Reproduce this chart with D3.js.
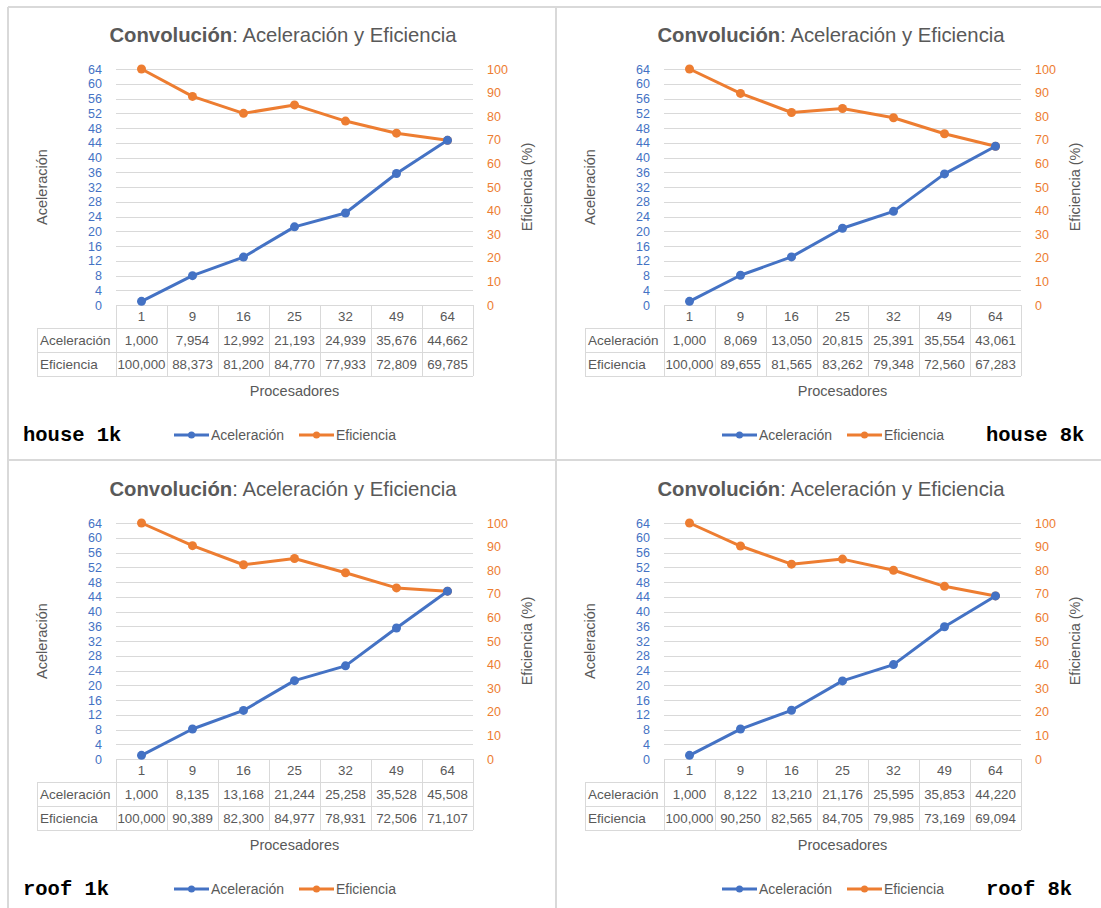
<!DOCTYPE html>
<html><head><meta charset="utf-8">
<script src="https://cdn.jsdelivr.net/npm/d3@7"></script>
<style>body{margin:0;background:#fff} svg{display:block}</style>
</head><body>
<script>
// Procesadores (categories) and measured values per image/size
const procesadores = ["1", "9", "16", "25", "32", "49", "64"];
const acelHouse1k = [1.000, 7.954, 12.992, 21.193, 24.939, 35.676, 44.662];
const eficHouse1k = [100.000, 88.373, 81.200, 84.770, 77.933, 72.809, 69.785];
const acelHouse8k = [1.000, 8.069, 13.050, 20.815, 25.391, 35.554, 43.061];
const eficHouse8k = [100.000, 89.655, 81.565, 83.262, 79.348, 72.560, 67.283];
const acelRoof1k = [1.000, 8.135, 13.168, 21.244, 25.258, 35.528, 45.508];
const eficRoof1k = [100.000, 90.389, 82.300, 84.977, 78.931, 72.506, 71.107];
const acelRoof8k = [1.000, 8.122, 13.210, 21.176, 25.595, 35.853, 44.220];
const eficRoof8k = [100.000, 90.250, 82.565, 84.705, 79.985, 73.169, 69.094];
const acelTicks = [0, 4, 8, 12, 16, 20, 24, 28, 32, 36, 40, 44, 48, 52, 56, 60, 64];
const eficTicks = [0, 10, 20, 30, 40, 50, 60, 70, 80, 90, 100];
const panelLabels = ["house 1k", "house 8k", "roof 1k", "roof 8k"];

const panels = [
  {label: panelLabels[0], acel: acelHouse1k, efic: eficHouse1k, col: 0, row: 0},
  {label: panelLabels[1], acel: acelHouse8k, efic: eficHouse8k, col: 1, row: 0},
  {label: panelLabels[2], acel: acelRoof1k, efic: eficRoof1k, col: 0, row: 1},
  {label: panelLabels[3], acel: acelRoof8k, efic: eficRoof8k, col: 1, row: 1}
];

const BLUE = "#4472C4", ORANGE = "#ED7D31", GRID = "#d9d9d9", TXT = "#595959";
const FONT = "'Liberation Sans', Arial, sans-serif";
const fmt = d3.formatLocale({decimal: ",", thousands: ".", grouping: [3], currency: ["", ""]}).format(".3f");

const W = 1101, H = 908;
const svg = d3.select("body").append("svg").attr("width", W).attr("height", H);

// frame and separators between the four charts
const frame = svg.append("g").attr("stroke", "#d9d9d9").attr("stroke-width", 2).attr("fill", "none");
frame.append("line").attr("x1", 8).attr("x2", 8).attr("y1", 7).attr("y2", H);
frame.append("line").attr("x1", 8).attr("x2", W).attr("y1", 7).attr("y2", 7);
frame.append("line").attr("x1", 556).attr("x2", 556).attr("y1", 7).attr("y2", H);
frame.append("line").attr("x1", 8).attr("x2", W).attr("y1", 460).attr("y2", 460);

const DX = 548, DY = 454;
const plot = {x0: 116, x1: 473, y0: 69, y1: 305};
const tbl = {left: 37, r0: 305, r1: 328, r2: 352, r3: 376};

const x = d3.scaleBand().domain(procesadores).range([plot.x0, plot.x1]);
const yL = d3.scaleLinear().domain([0, 64]).range([plot.y1, plot.y0]);
const yR = d3.scaleLinear().domain([0, 100]).range([plot.y1, plot.y0]);

panels.forEach(p => {
  const g = svg.append("g").attr("transform", `translate(${p.col * DX},${p.row * DY})`)
    .style("font-family", FONT);

  // title
  const t = g.append("text").attr("x", 283).attr("y", 42).attr("text-anchor", "middle")
    .attr("fill", TXT).style("font-size", "20.3px");
  t.append("tspan").attr("font-weight", "bold").text("Convolución");
  t.append("tspan").text(": Aceleración y Eficiencia");

  // horizontal gridlines
  g.append("g").selectAll("line").data(acelTicks.slice(1)).join("line")
    .attr("x1", plot.x0).attr("x2", plot.x1)
    .attr("y1", d => Math.round(yL(d)) + 0.5).attr("y2", d => Math.round(yL(d)) + 0.5)
    .attr("stroke", GRID).attr("stroke-width", 1);

  // left axis (Aceleración)
  const axL = g.append("g").attr("transform", `translate(${plot.x0 - 14},0)`)
    .call(d3.axisLeft(yL).tickValues(acelTicks).tickSize(0).tickPadding(0));
  axL.select(".domain").remove();
  axL.selectAll("text").attr("fill", BLUE).style("font-size", "12.5px").style("font-family", FONT);

  // right axis (Eficiencia)
  const axR = g.append("g").attr("transform", `translate(${plot.x1 + 14},0)`)
    .call(d3.axisRight(yR).tickValues(eficTicks).tickSize(0).tickPadding(0));
  axR.select(".domain").remove();
  axR.selectAll("text").attr("fill", ORANGE).style("font-size", "12.5px").style("font-family", FONT);

  // axis titles
  g.append("text").attr("transform", `translate(47,${(plot.y0 + plot.y1) / 2}) rotate(-90)`)
    .attr("text-anchor", "middle").attr("fill", TXT).style("font-size", "14.5px").text("Aceleración");
  g.append("text").attr("transform", `translate(532,${(plot.y0 + plot.y1) / 2}) rotate(-90)`)
    .attr("text-anchor", "middle").attr("fill", TXT).style("font-size", "14.5px").text("Eficiencia (%)");

  // data table below the plot
  const tb = g.append("g").attr("stroke", GRID).attr("stroke-width", 1);
  tb.append("line").attr("x1", plot.x0).attr("x2", plot.x1).attr("y1", tbl.r0 + 0.5).attr("y2", tbl.r0 + 0.5);
  [tbl.r1, tbl.r2, tbl.r3].forEach(yy => tb.append("line")
    .attr("x1", tbl.left).attr("x2", plot.x1).attr("y1", yy + 0.5).attr("y2", yy + 0.5));
  tb.append("line").attr("x1", tbl.left + 0.5).attr("x2", tbl.left + 0.5).attr("y1", tbl.r1).attr("y2", tbl.r3);
  const edges = procesadores.map(c => x(c)).concat([plot.x1]);
  tb.selectAll(".v").data(edges).join("line")
    .attr("x1", d => Math.round(d) + 0.5).attr("x2", d => Math.round(d) + 0.5)
    .attr("y1", tbl.r0).attr("y2", tbl.r3);

  const cellText = (arr, yy, f) => g.append("g").selectAll("text").data(arr).join("text")
    .attr("x", (d, i) => x(procesadores[i]) + x.bandwidth() / 2).attr("y", yy)
    .attr("text-anchor", "middle").attr("fill", TXT).style("font-size", "13.3px").text(f);
  cellText(procesadores, 321, d => d);
  cellText(p.acel, 345, d => fmt(d));
  cellText(p.efic, 369, d => fmt(d));
  g.append("text").attr("x", 40).attr("y", 345).attr("fill", TXT).style("font-size", "13.5px").text("Aceleración");
  g.append("text").attr("x", 40).attr("y", 369).attr("fill", TXT).style("font-size", "13.5px").text("Eficiencia");

  // x axis title
  g.append("text").attr("x", (plot.x0 + plot.x1) / 2).attr("y", 396).attr("text-anchor", "middle")
    .attr("fill", TXT).style("font-size", "14.5px").text("Procesadores");

  // series lines with markers
  const cx = (d, i) => x(procesadores[i]) + x.bandwidth() / 2;
  const series = [
    {vals: p.efic, y: yR, color: ORANGE},
    {vals: p.acel, y: yL, color: BLUE}
  ];
  series.forEach(s => {
    g.append("path").datum(s.vals)
      .attr("d", d3.line().x(cx).y(d => s.y(d)))
      .attr("fill", "none").attr("stroke", s.color).attr("stroke-width", 3)
      .attr("stroke-linejoin", "round").attr("stroke-linecap", "round");
    g.append("g").selectAll("circle").data(s.vals).join("circle")
      .attr("cx", cx).attr("cy", d => s.y(d)).attr("r", 4.5).attr("fill", s.color);
  });

  // legend
  const leg = [{name: "Aceleración", color: BLUE, x: 174}, {name: "Eficiencia", color: ORANGE, x: 299}];
  leg.forEach(l => {
    g.append("line").attr("x1", l.x).attr("x2", l.x + 35).attr("y1", 435).attr("y2", 435)
      .attr("stroke", l.color).attr("stroke-width", 3);
    g.append("circle").attr("cx", l.x + 17.5).attr("cy", 435).attr("r", 3.5).attr("fill", l.color);
    g.append("text").attr("x", l.x + 37).attr("y", 440).attr("fill", TXT).style("font-size", "14px").text(l.name);
  });

  // image / size label
  g.append("text").attr("x", p.col === 0 ? 23 : 438).attr("y", 441)
    .attr("fill", "#000").attr("font-weight", "bold")
    .style("font-family", "'Liberation Mono', 'DejaVu Sans Mono', monospace").style("font-size", "20.5px")
    .text(p.label);
});
</script>
</body></html>
